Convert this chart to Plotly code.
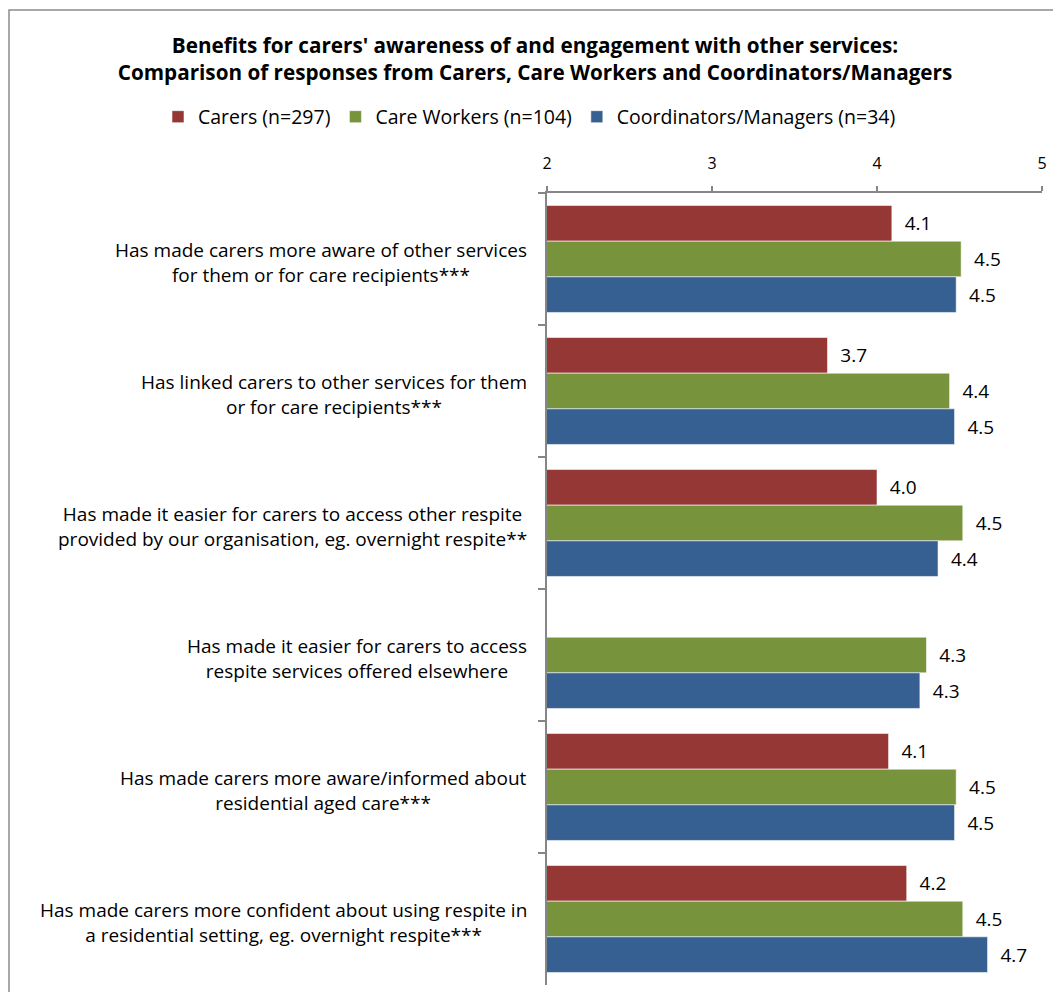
import plotly.graph_objects as go

categories = [
    "Has made carers more aware of other services<br>for them or for care recipients***",
    "Has linked carers to other services for them<br>or for care recipients***",
    "Has made it easier for carers to access other respite<br>provided by our organisation, eg. overnight respite**",
    "Has made it easier for carers to access<br>respite services offered elsewhere",
    "Has made carers more aware/informed about<br>residential aged care***",
    "Has made carers more confident about using respite in<br>a residential setting, eg. overnight respite***",
]
carers = [4.09, 3.70, 4.00, None, 4.07, 4.18]
care_workers = [4.51, 4.44, 4.52, 4.30, 4.48, 4.52]
coordinators = [4.48, 4.47, 4.37, 4.26, 4.47, 4.67]
series_names = ["Carers (n=297)", "Care Workers (n=104)", "Coordinators/Managers (n=34)"]
colors = ["#953735", "#77933C", "#376092"]
x_ticks = [2, 3, 4, 5]

W, H = 1053, 992
L, R, T, B = 547, 11, 193, 7
PW, PH = W - L - R, H - T - B
FONT = "'Open Sans', Lato, sans-serif"
LBL = 19

def px_x(p):
    return (p - L) / PW

def px_y(p):
    return 1 - (p - T) / PH

fig = go.Figure()
for name, vals, col in zip(series_names, [carers, care_workers, coordinators], colors):
    fig.add_trace(go.Bar(
        name=name, y=categories, x=vals, orientation="h",
        marker=dict(color=col, line=dict(color="rgba(255,255,255,0.55)", width=1)),
        texttemplate="\u00a0\u00a0%{x:.1f}", textposition="outside",
        textfont=dict(family=FONT, size=LBL, color="#000000"),
        constraintext="none", cliponaxis=False,
        hoverinfo="x+name",
    ))

# category labels, centered lines, right-aligned block
for c in categories:
    fig.add_annotation(
        x=0, xref="paper", y=c, yref="y", text=c, showarrow=False,
        xanchor="right", align="center", xshift=-18, yshift=-3,
        font=dict(family=FONT, size=LBL, color="#000000"),
    )

# outer chart border
fig.add_shape(type="rect", xref="paper", yref="paper",
              x0=px_x(9), x1=px_x(1060), y0=px_y(1000), y1=px_y(10),
              line=dict(color="#8c8c8c", width=1.5), fillcolor="rgba(0,0,0,0)", layer="below")

fig.update_layout(
    width=W, height=H,
    margin=dict(l=L, r=R, t=T, b=B, pad=0, autoexpand=False),
    paper_bgcolor="white", plot_bgcolor="white",
    barmode="group", bargap=0.19, bargroupgap=0,
    font=dict(family=FONT, size=LBL, color="#000000"),
    title=dict(
        text="<b>Benefits for carers' awareness of and engagement with other services:<br>Comparison of responses from Carers, Care Workers and Coordinators/Managers</b>",
        x=535 / W, xanchor="center", y=1 - 53 / H, yanchor="top",
        font=dict(family=FONT, size=20.7, color="#000000"),
    ),
    legend=dict(
        orientation="h", x=px_x(158), xref="paper", xanchor="left",
        y=px_y(117), yref="paper", yanchor="middle",
        font=dict(family=FONT, size=19.5), traceorder="normal",
        bgcolor="rgba(0,0,0,0)",
    ),
    xaxis=dict(
        side="top", range=[2, 5], tickvals=x_ticks, ticktext=[str(t) for t in x_ticks],
        showgrid=False, zeroline=False, showline=True, linecolor="#868686", linewidth=1.5,
        ticks="outside", ticklen=5, tickcolor="#868686", tickwidth=1.5,
        tickfont=dict(family=FONT, size=16), ticklabelstandoff=11,
    ),
    yaxis=dict(
        categoryorder="array", categoryarray=categories, autorange="reversed",
        showticklabels=False, showgrid=False, zeroline=False,
        showline=True, linecolor="#868686", linewidth=1.5,
        ticks="outside", ticklen=7, tickcolor="#868686", tickwidth=1.5,
        tickson="boundaries",
    ),
    showlegend=True,
)

fig.write_html("out.html")
